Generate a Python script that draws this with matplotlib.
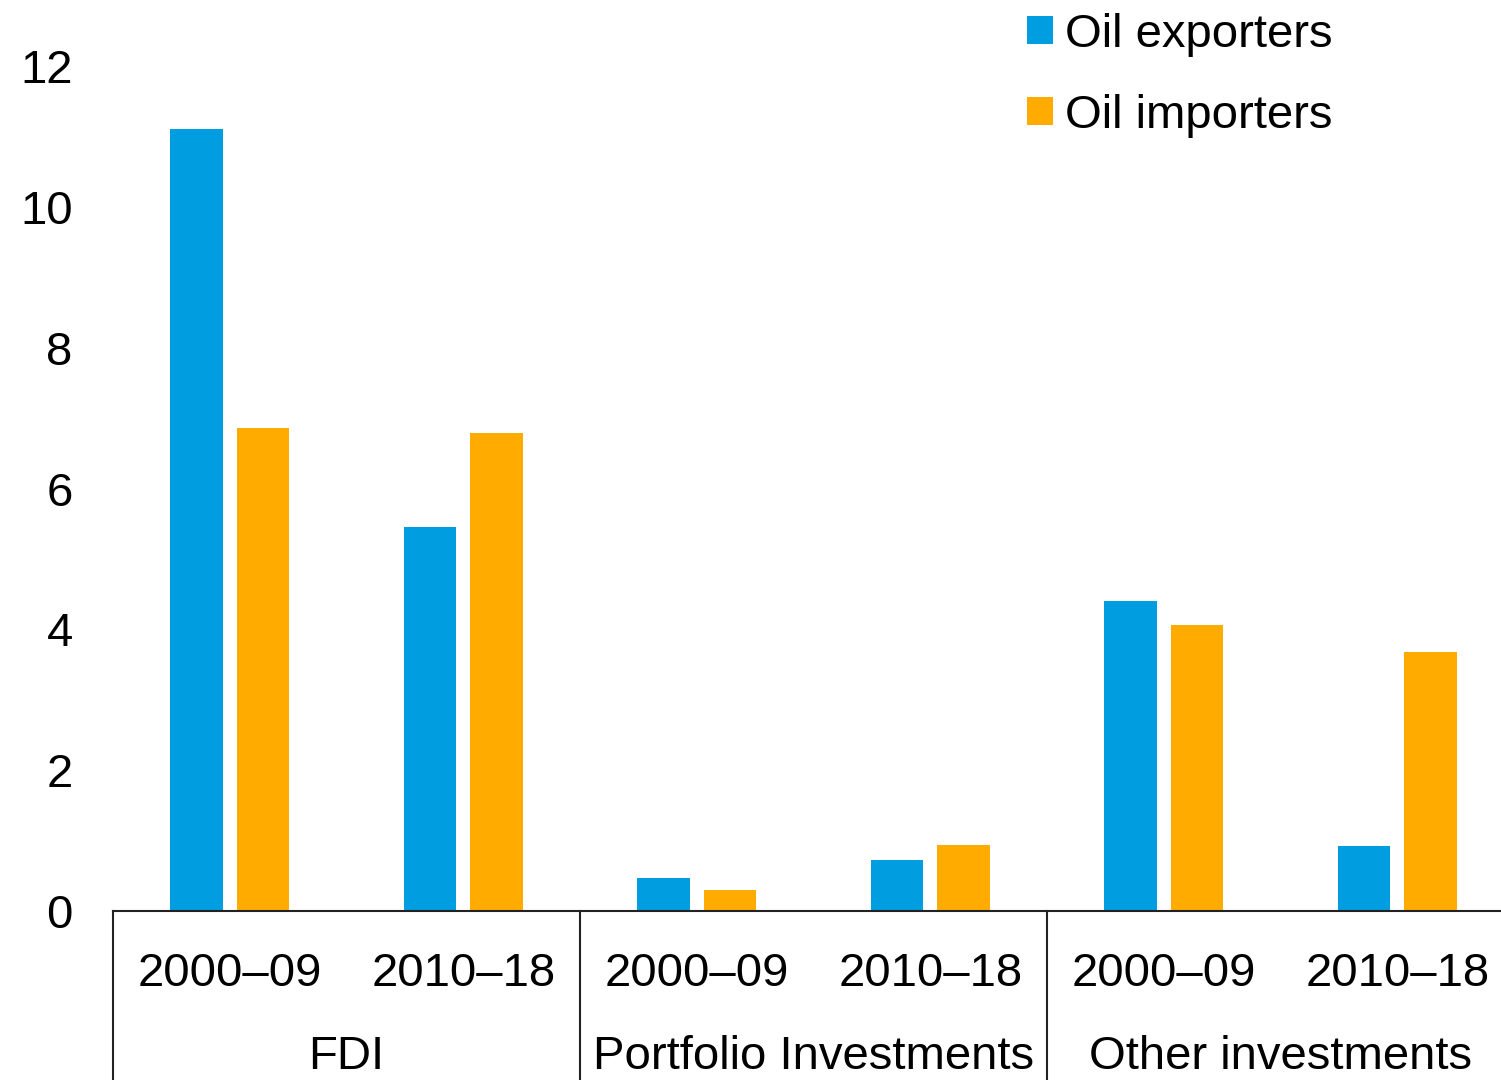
import matplotlib
matplotlib.use("Agg")
import matplotlib.pyplot as plt
import matplotlib.transforms as mtransforms
from matplotlib.patches import Patch
import numpy as np

plt.rcParams['font.family'] = ['Liberation Sans', 'DejaVu Sans']

groups = ["FDI", "Portfolio Investments", "Other investments"]
periods = ["2000–09", "2010–18"]
series_names = ["Oil exporters", "Oil importers"]
oil_exporters = [11.10, 5.45, 0.47, 0.72, 4.40, 0.92]
oil_importers = [6.86, 6.79, 0.30, 0.94, 4.06, 3.68]
yticks = [0, 2, 4, 6, 8, 10, 12]

blue = "#009EE0"
orange = "#FFAB00"

W, H = 1501, 1080
fig = plt.figure(figsize=(W / 100, H / 100), dpi=100)
left, right, top, bottom = 113, 1514, 66, 911
ax = fig.add_axes([left / W, 1 - bottom / H, (right - left) / W, (bottom - top) / H])

n = len(oil_exporters)
x = np.arange(n)
bw = 0.225
off = 0.1427
ax.bar(x - off, oil_exporters, width=bw, color=blue, zorder=2)
ax.bar(x + off, oil_importers, width=bw, color=orange, zorder=2)

ax.set_xlim(-0.5, n - 0.5)
ax.set_ylim(0, 12)
ax.set_yticks(yticks)
ax.set_yticklabels([str(v) for v in yticks], fontsize=34)
ax.tick_params(axis='y', length=0, pad=29)
ax.set_xticks([])
for s in ["left", "right", "top"]:
    ax.spines[s].set_visible(False)
ax.spines["bottom"].set_linewidth(1.5)
ax.spines["bottom"].set_color("#222222")

trans = mtransforms.blended_transform_factory(ax.transData, ax.transAxes)
ext = (H - bottom + 5) / (bottom - top)
for sep in [-0.5, 1.5, 3.5, 5.5]:
    ax.plot([sep, sep], [0, -ext], transform=trans, color="#222222", lw=1.5, clip_on=False)

y_period = -(974 - bottom) / (bottom - top)
y_group = -(1057 - bottom) / (bottom - top)
for i in range(n):
    ax.text(x[i], y_period, periods[i % 2], transform=trans, ha='center', va='center', fontsize=34)
for g, name in enumerate(groups):
    ax.text(2 * g + 0.5, y_group, name, transform=trans, ha='center', va='center', fontsize=34)

handles = [Patch(facecolor=blue, edgecolor='none'), Patch(facecolor=orange, edgecolor='none')]
fig.legend(handles, series_names, loc='upper left', bbox_to_anchor=(1008 / W, 1 + 6 / H),
           frameon=False, fontsize=34, handlelength=0.55, handleheight=0.55,
           handletextpad=0.25, labelspacing=0.78, borderaxespad=0)

fig.savefig("out.png", dpi=100)
